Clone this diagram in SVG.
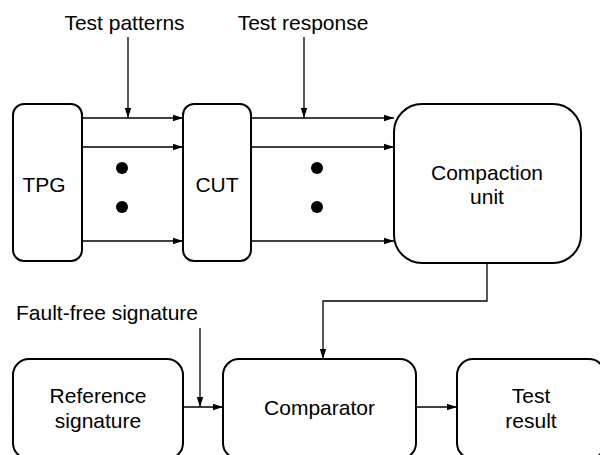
<svg xmlns="http://www.w3.org/2000/svg" width="600" height="455" viewBox="0 0 600 455">
  <defs>
    <marker id="arrow" markerWidth="10" markerHeight="8" refX="10" refY="4" orient="auto" markerUnits="userSpaceOnUse">
      <path d="M0,0.8 L10,4 L0,7.2 Z" fill="#000"/>
    </marker>
    <style>
      .box { fill: #fff; stroke: #000; stroke-width: 2; }
      .arr { fill: none; stroke: #000; stroke-width: 1.3; marker-end: url(#arrow); }
      .lbl { font-family: "Liberation Sans", Arial, Helvetica, sans-serif; font-size: 21px; fill: #000; text-anchor: middle; }
      .dot { fill: #000; }
    </style>
  </defs>

  <!-- labels above the signal lines -->
  <text class="lbl" x="124.5" y="30">Test patterns</text>
  <text class="lbl" x="303" y="30">Test response</text>
  <text class="lbl" x="107" y="320">Fault-free signature</text>

  <g id="connectors">
    <!-- TPG to CUT -->
    <line class="arr" x1="82" y1="118" x2="183" y2="118"/>
    <line class="arr" x1="82" y1="147" x2="183" y2="147"/>
    <line class="arr" x1="82" y1="241" x2="183" y2="241"/>
    <!-- CUT to compaction unit -->
    <line class="arr" x1="251" y1="118" x2="394" y2="118"/>
    <line class="arr" x1="251" y1="147" x2="394" y2="147"/>
    <line class="arr" x1="251" y1="241" x2="394" y2="241"/>
    <!-- label pointers -->
    <line class="arr" x1="128" y1="37" x2="128" y2="118"/>
    <line class="arr" x1="304" y1="37" x2="304" y2="118"/>
    <line class="arr" x1="200" y1="328" x2="200" y2="407"/>
    <!-- compaction unit to comparator -->
    <polyline class="arr" points="487,263 487,301 323,301 323,359"/>
    <!-- reference signature to comparator -->
    <line class="arr" x1="183" y1="407" x2="223" y2="407"/>
    <!-- comparator to test result -->
    <line class="arr" x1="416" y1="407" x2="457" y2="407"/>
    <!-- ellipsis dots -->
    <circle class="dot" cx="122" cy="168" r="6"/>
    <circle class="dot" cx="122" cy="207" r="6"/>
    <circle class="dot" cx="317" cy="168" r="6"/>
    <circle class="dot" cx="317" cy="207" r="6"/>
  </g>

  <g id="tpg">
    <rect class="box" x="13" y="104" width="69" height="157" rx="11"/>
    <text class="lbl" x="44" y="192">TPG</text>
  </g>

  <g id="cut">
    <rect class="box" x="183" y="104" width="68" height="157" rx="11"/>
    <text class="lbl" x="217" y="192">CUT</text>
  </g>

  <g id="compaction-unit">
    <rect class="box" x="394" y="104" width="187" height="159" rx="28"/>
    <text class="lbl" x="487" y="180">Compaction</text>
    <text class="lbl" x="487" y="204">unit</text>
  </g>

  <g id="reference-signature">
    <rect class="box" x="13" y="359" width="170" height="100" rx="16"/>
    <text class="lbl" x="98" y="403">Reference</text>
    <text class="lbl" x="98" y="428">signature</text>
  </g>

  <g id="comparator">
    <rect class="box" x="223" y="359" width="193" height="100" rx="16"/>
    <text class="lbl" x="319.5" y="415">Comparator</text>
  </g>

  <g id="test-result">
    <rect class="box" x="457" y="359" width="148" height="100" rx="16"/>
    <text class="lbl" x="531" y="403">Test</text>
    <text class="lbl" x="531" y="428">result</text>
  </g>
</svg>
